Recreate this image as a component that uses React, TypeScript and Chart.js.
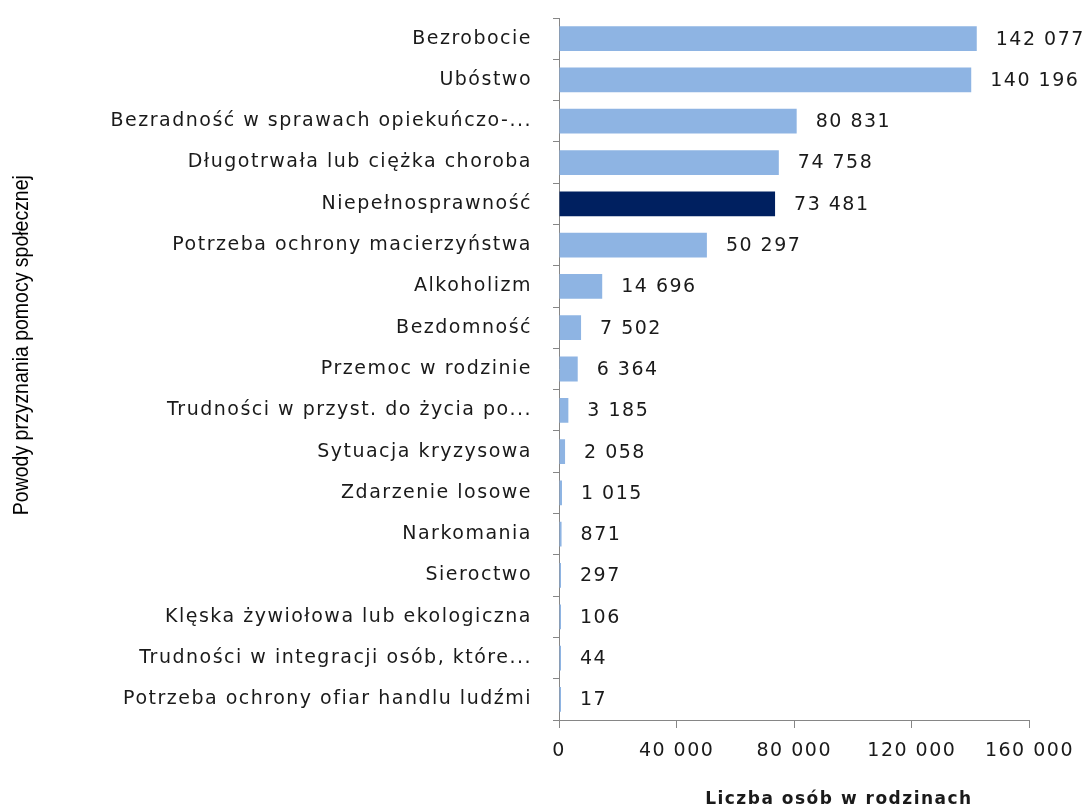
import React, { useEffect, useRef } from "react";
import { Chart, registerables } from "chart.js";

Chart.register(...registerables);

const categories = [
  "Bezrobocie",
  "Ubóstwo",
  "Bezradność w sprawach opiekuńczo-...",
  "Długotrwała lub ciężka choroba",
  "Niepełnosprawność",
  "Potrzeba ochrony macierzyństwa",
  "Alkoholizm",
  "Bezdomność",
  "Przemoc w rodzinie",
  "Trudności w przyst. do życia po...",
  "Sytuacja kryzysowa",
  "Zdarzenie losowe",
  "Narkomania",
  "Sieroctwo",
  "Klęska żywiołowa lub ekologiczna",
  "Trudności w integracji osób, które...",
  "Potrzeba ochrony ofiar handlu ludźmi",
];

const values = [142077, 140196, 80831, 74758, 73481, 50297, 14696, 7502, 6364, 3185, 2058, 1015, 871, 297, 106, 44, 17];

const highlighted = ["Niepełnosprawność"];

const xTicks = [0, 40000, 80000, 120000, 160000];

const yTitle = "Powody przyznania pomocy społecznej";
const xTitle = "Liczba osób w rodzinach";

const LIGHT = "#8EB4E3";
const DARK = "#002060";
const AXIS = "#868686";
const TEXT = "#1a1a1a";
const SPACING = "1.5px";

const fmt = (v: number) => String(v).replace(/\B(?=(\d{3})+(?!\d))/g, " ");

const spacingPlugin = {
  id: "spacing",
  beforeLayout(chart: any) {
    chart.ctx.letterSpacing = SPACING;
  },
  beforeDraw(chart: any) {
    chart.ctx.letterSpacing = SPACING;
  },
};

const valueLabels = {
  id: "valueLabels",
  afterDatasetsDraw(chart: any) {
    const ctx = chart.ctx;
    const meta = chart.getDatasetMeta(0);
    ctx.save();
    ctx.letterSpacing = SPACING;
    ctx.font = "19px 'DejaVu Sans'";
    ctx.fillStyle = TEXT;
    ctx.textAlign = "left";
    ctx.textBaseline = "middle";
    meta.data.forEach((bar: any, i: number) => {
      ctx.fillText(fmt(values[i]), bar.x + 19, bar.y + 1);
    });
    ctx.restore();
  },
};

const axisTitles = {
  id: "axisTitles",
  afterDraw(chart: any) {
    const ctx = chart.ctx;
    const area = chart.chartArea;
    ctx.save();
    ctx.letterSpacing = "0px";
    ctx.font = "22px 'Liberation Sans'";
    ctx.fillStyle = "#000";
    ctx.textAlign = "center";
    ctx.textBaseline = "middle";
    const w = ctx.measureText(yTitle).width;
    const sx = 340 / w;
    ctx.translate(22, area.top + (area.bottom - area.top) * 0.466);
    ctx.rotate(-Math.PI / 2);
    ctx.scale(sx, 1);
    ctx.fillText(yTitle, 0, 0);
    ctx.restore();
    ctx.save();
    ctx.letterSpacing = SPACING;
    ctx.font = "bold 17px 'DejaVu Sans'";
    ctx.fillStyle = TEXT;
    ctx.textAlign = "center";
    ctx.textBaseline = "middle";
    ctx.fillText(xTitle, area.left + (area.right - area.left) * 0.595, 800);
    ctx.restore();
  },
};

export default function App() {
  const ref = useRef<HTMLCanvasElement>(null);
  useEffect(() => {
    document.body.style.margin = "0";
    const chart = new Chart(ref.current!, {
      type: "bar",
      data: {
        labels: categories,
        datasets: [
          {
            data: values,
            backgroundColor: categories.map((c) => (highlighted.includes(c) ? DARK : LIGHT)),
            categoryPercentage: 1,
            barPercentage: 0.6,
            minBarLength: 2,
          },
        ],
      },
      options: {
        indexAxis: "y",
        animation: false,
        responsive: false,
        layout: { padding: { top: 18, right: 56, left: 0, bottom: 0 } },
        plugins: { legend: { display: false }, tooltip: { enabled: false } },
        scales: {
          x: {
            min: 0,
            max: 160000,
            afterBuildTicks(scale: any) {
              scale.ticks = xTicks.map((v) => ({ value: v }));
            },
            afterFit(scale: any) {
              scale.height = 89;
            },
            border: { color: AXIS, width: 1 },
            grid: { drawOnChartArea: false, drawTicks: true, tickLength: 8, color: AXIS },
            ticks: {
              padding: 12,
              color: TEXT,
              font: { family: "'DejaVu Sans'", size: 19 },
              callback: (v: any) => fmt(Number(v)),
              maxRotation: 0,
            },
          },
          y: {
            afterFit(scale: any) {
              scale.width = 559;
              scale.paddingTop = 0;
              scale.paddingBottom = 0;
            },
            border: { color: AXIS, width: 1 },
            grid: { drawOnChartArea: false, drawTicks: true, tickLength: 6, color: AXIS, offset: true },
            ticks: {
              padding: 21,
              color: TEXT,
              font: { family: "'DejaVu Sans'", size: 19 },
              autoSkip: false,
            },
          },
        },
      },
      plugins: [spacingPlugin, valueLabels, axisTitles],
    });
    return () => chart.destroy();
  }, []);
  return (
    <div style={{ width: 1086, height: 809, background: "#fff" }}>
      <canvas ref={ref} width={1086} height={809} style={{ display: "block" }} />
    </div>
  );
}
